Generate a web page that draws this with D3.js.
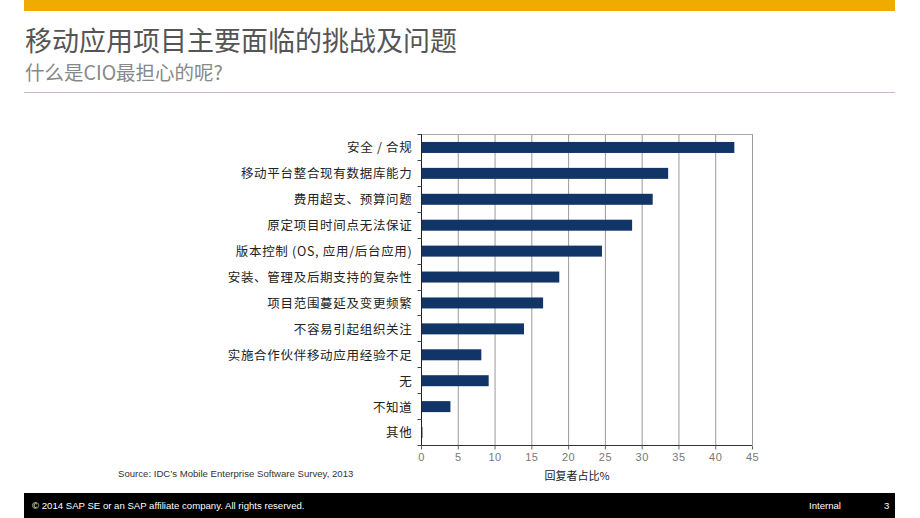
<!DOCTYPE html>
<html><head><meta charset="utf-8">
<script src="https://cdn.jsdelivr.net/npm/d3@7"></script>
<style>
html,body{margin:0;padding:0;background:#fff;}
svg{display:block;}
</style></head>
<body>
<svg id="chart" width="920" height="518"></svg>
<script>
const categories = ["安全 / 合规","移动平台整合现有数据库能力","费用超支、预算问题","原定项目时间点无法保证","版本控制 (OS, 应用/后台应用)","安装、管理及后期支持的复杂性","项目范围蔓延及变更频繁","不容易引起组织关注","实施合作伙伴移动应用经验不足","无","不知道","其他"];
const values = [42.6, 33.6, 31.5, 28.7, 24.6, 18.8, 16.6, 14.0, 8.2, 9.2, 4.0, 0.2];
const xTicks = [0,5,10,15,20,25,30,35,40,45];
const title = "移动应用项目主要面临的挑战及问题";
const subtitle = "什么是CIO最担心的呢?";
const axisTitle = "回复者占比%";
const source = "Source: IDC’s Mobile Enterprise Software Survey, 2013";
const footerLeft = "© 2014 SAP SE or an SAP affiliate company. All rights reserved.";
const footerRight = "Internal";
const pageNum = "3";

const svg = d3.select("#chart");
const cjk = "'Noto Sans CJK SC','Liberation Sans',Arial,sans-serif";
const lat = "'Liberation Sans',Arial,sans-serif";

// header
svg.append("rect").attr("x",24).attr("y",0).attr("width",871).attr("height",11).attr("fill","#f0ab00");
svg.append("text").attr("x",25).attr("y",51).text(title)
  .attr("font-family",cjk).attr("font-size",27).attr("fill","#555");
svg.append("text").attr("x",25).attr("y",80).text(subtitle)
  .attr("font-family",cjk).attr("font-size",19.5).attr("fill","#888");
svg.append("line").attr("x1",24).attr("x2",895).attr("y1",92.5).attr("y2",92.5)
  .attr("stroke","#c9b8cc").attr("stroke-width",1);

// chart
const m = {left:421, right:752, top:134, bottom:445};
const x = d3.scaleLinear().domain([0,45]).range([m.left,m.right]);
const yb = d3.scaleBand().domain(categories).range([m.top,m.bottom]);

// grid
svg.append("g").selectAll("line").data(xTicks.slice(1)).join("line")
  .attr("x1",d=>x(d)+0.5).attr("x2",d=>x(d)+0.5).attr("y1",m.top).attr("y2",m.bottom)
  .attr("stroke","#999").attr("stroke-width",1);
svg.append("line").attr("x1",m.left).attr("x2",m.right+0.5).attr("y1",m.top+0.5).attr("y2",m.top+0.5)
  .attr("stroke","#aaa");

// bars
svg.append("g").selectAll("rect").data(values).join("rect")
  .attr("x",x(0)).attr("y",(d,i)=>yb(categories[i])+yb.bandwidth()/2-5)
  .attr("width",d=>x(d)-x(0)).attr("height",11)
  .attr("fill","#123568");

// left axis
const yAxis = svg.append("g").attr("transform",`translate(${m.left+0.5},0)`);
yAxis.append("line").attr("x1",0).attr("x2",0).attr("y1",m.top).attr("y2",m.bottom).attr("stroke","#222");
yAxis.selectAll("line.t").data(d3.range(categories.length+1)).join("line").attr("class","t")
  .attr("x1",-4).attr("x2",0).attr("y1",i=>Math.round(m.top+i*yb.step())+0.5).attr("y2",i=>Math.round(m.top+i*yb.step())+0.5)
  .attr("stroke","#444");
yAxis.selectAll("text").data(categories).join("text")
  .attr("x",-9).attr("y",d=>yb(d)+yb.bandwidth()/2+1).attr("dy","0.35em")
  .attr("text-anchor","end").attr("font-family",cjk).attr("font-size",12.5)
  .attr("letter-spacing",0.7).attr("fill","#222").text(d=>d);

// bottom axis
const xAxis = svg.append("g").attr("transform",`translate(0,${m.bottom+0.5})`)
  .call(d3.axisBottom(x).tickValues(xTicks).tickSize(4).tickPadding(4).tickFormat(d3.format("d")));
xAxis.select(".domain").attr("stroke","#333").attr("d",`M${m.left},0H${m.right}`);
xAxis.selectAll(".tick line").attr("stroke","#666");
xAxis.selectAll(".tick text").attr("font-family",lat).attr("font-size",11).attr("fill","#777").attr("letter-spacing",0.5);

svg.append("text").attr("x",577).attr("y",480).attr("text-anchor","middle").text(axisTitle)
  .attr("font-family",cjk).attr("font-size",11).attr("fill","#222");
svg.append("text").attr("x",118).attr("y",477).text(source)
  .attr("font-family",lat).attr("font-size",9.6).attr("fill","#333");

// footer
svg.append("rect").attr("x",24).attr("y",493).attr("width",871).attr("height",25).attr("fill","#000");
svg.append("text").attr("x",32).attr("y",509).text(footerLeft)
  .attr("font-family",lat).attr("font-size",9.6).attr("fill","#fff");
svg.append("text").attr("x",809).attr("y",509).text(footerRight)
  .attr("font-family",lat).attr("font-size",9.6).attr("fill","#fff");
svg.append("text").attr("x",884).attr("y",509).text(pageNum)
  .attr("font-family",lat).attr("font-size",9.6).attr("fill","#fff");
</script>
</body></html>
